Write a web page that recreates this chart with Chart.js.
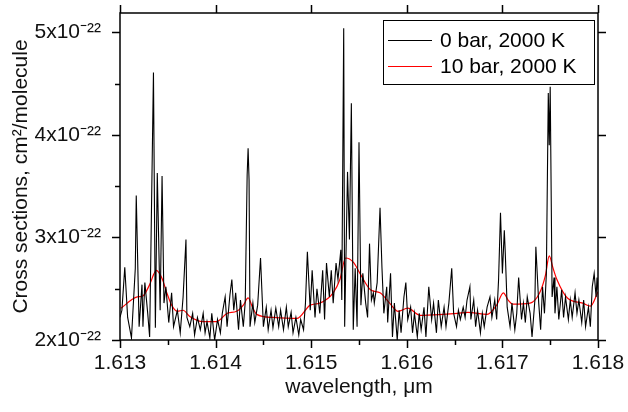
<!DOCTYPE html>
<html>
<head>
<meta charset="utf-8">
<script src="https://cdn.jsdelivr.net/npm/chart.js@4.4.1/dist/chart.umd.min.js"></script>
<style>
  html, body { margin: 0; padding: 0; background: #fff; }
  #wrap { width: 628px; height: 412px; position: relative; }
</style>
</head>
<body>
<div id="wrap"><canvas id="spectrumChart"></canvas></div>
<script>
// wavelength in um, cross sections in units of 1e-22 cm^2/molecule
const wl0bar = [1.61300, 1.61302, 1.61305, 1.61308, 1.61312, 1.61316, 1.61317, 1.61320, 1.61323, 1.61324,
    1.61326, 1.61329, 1.61331, 1.61335, 1.61337, 1.61339, 1.61342, 1.61344, 1.61346, 1.61348,
    1.61351, 1.61354, 1.61356, 1.61360, 1.61363, 1.61366, 1.61369, 1.61370, 1.61373, 1.61376,
    1.61378, 1.61381, 1.61384, 1.61387, 1.61389, 1.61391, 1.61394, 1.61396, 1.61399, 1.61402,
    1.61405, 1.61407, 1.61410, 1.61412, 1.61415, 1.61417, 1.61419, 1.61421, 1.61424, 1.61426,
    1.61429, 1.61431, 1.61433, 1.61434, 1.61435, 1.61436, 1.61439, 1.61441, 1.61444, 1.61447,
    1.61450, 1.61453, 1.61455, 1.61458, 1.61460, 1.61463, 1.61466, 1.61468, 1.61471, 1.61474,
    1.61476, 1.61479, 1.61481, 1.61484, 1.61487, 1.61489, 1.61492, 1.61494, 1.61496, 1.61499,
    1.61501, 1.61504, 1.61506, 1.61509, 1.61512, 1.61514, 1.61516, 1.61519, 1.61521, 1.61523,
    1.61526, 1.61528, 1.61531, 1.61532, 1.61534, 1.61535, 1.61538, 1.61540, 1.61542, 1.61544,
    1.61546, 1.61548, 1.61550, 1.61552, 1.61554, 1.61557, 1.61559, 1.61561, 1.61563, 1.61565,
    1.61566, 1.61569, 1.61572, 1.61574, 1.61576, 1.61579, 1.61580, 1.61583, 1.61585, 1.61587,
    1.61590, 1.61592, 1.61594, 1.61597, 1.61599, 1.61601, 1.61604, 1.61606, 1.61608, 1.61611,
    1.61613, 1.61615, 1.61618, 1.61620, 1.61623, 1.61626, 1.61628, 1.61631, 1.61633, 1.61636,
    1.61639, 1.61641, 1.61644, 1.61647, 1.61649, 1.61652, 1.61654, 1.61656, 1.61659, 1.61661,
    1.61663, 1.61666, 1.61667, 1.61670, 1.61672, 1.61674, 1.61677, 1.61679, 1.61681, 1.61684,
    1.61687, 1.61689, 1.61692, 1.61694, 1.61696, 1.61698, 1.61700, 1.61702, 1.61703, 1.61705,
    1.61708, 1.61710, 1.61713, 1.61715, 1.61717, 1.61720, 1.61722, 1.61724, 1.61726, 1.61729,
    1.61731, 1.61734, 1.61735, 1.61738, 1.61740, 1.61742, 1.61744, 1.61746, 1.61748, 1.61749,
    1.61750, 1.61752, 1.61754, 1.61755, 1.61757, 1.61759, 1.61762, 1.61764, 1.61766, 1.61769,
    1.61771, 1.61773, 1.61776, 1.61778, 1.61780, 1.61783, 1.61785, 1.61787, 1.61790, 1.61792,
    1.61794, 1.61796, 1.61798, 1.61799, 1.61800];
const cs0bar = [2.22, 2.29, 2.71, 2.22, 2.02, 2.70, 3.41, 2.13, 2.54, 2.13,
    2.56, 2.26, 2.03, 4.61, 2.12, 3.63, 2.29, 3.60, 2.36, 2.52,
    2.17, 2.46, 2.13, 2.29, 2.07, 2.42, 2.98, 2.22, 2.13, 2.26,
    2.05, 2.22, 2.10, 2.26, 2.07, 2.18, 2.02, 2.26, 2.00, 2.20,
    2.07, 2.26, 2.42, 2.13, 2.44, 2.59, 2.29, 2.46, 2.10, 2.39,
    2.13, 2.37, 3.61, 3.87, 3.56, 2.13, 2.36, 2.17, 2.34, 2.80,
    2.13, 2.32, 2.10, 2.29, 2.12, 2.31, 2.13, 2.29, 2.10, 2.32,
    2.13, 2.27, 2.07, 2.22, 2.05, 2.20, 2.10, 2.36, 2.86, 2.29,
    2.68, 2.22, 2.50, 2.26, 2.68, 2.20, 2.75, 2.42, 2.68, 2.36,
    2.75, 2.59, 2.88, 2.39, 5.04, 2.13, 3.64, 2.98, 4.31, 2.10,
    2.70, 2.13, 3.93, 2.34, 2.65, 2.36, 2.22, 2.94, 2.39, 2.46,
    2.36, 2.56, 3.29, 2.71, 2.26, 2.52, 2.17, 2.65, 2.03, 2.36,
    2.00, 2.29, 2.07, 2.42, 2.56, 2.20, 2.32, 2.07, 2.26, 2.03,
    2.26, 2.10, 2.32, 2.03, 2.52, 2.20, 2.36, 2.07, 2.39, 2.13,
    2.32, 2.13, 2.36, 2.70, 2.26, 2.13, 2.29, 2.20, 2.32, 2.22,
    2.39, 2.52, 2.20, 2.39, 2.13, 2.29, 2.07, 2.26, 2.13, 2.32,
    2.42, 2.22, 2.39, 2.20, 2.59, 3.24, 2.65, 3.07, 2.85, 2.32,
    2.13, 2.36, 2.10, 2.26, 2.61, 2.20, 2.36, 2.17, 2.42, 2.26,
    2.03, 2.39, 2.91, 2.36, 2.10, 2.52, 2.26, 2.65, 4.41, 3.90,
    4.47, 2.42, 2.61, 2.26, 2.52, 2.20, 2.49, 2.22, 2.42, 2.20,
    2.39, 2.22, 2.46, 2.26, 2.39, 2.17, 2.39, 2.13, 2.32, 2.13,
    2.52, 2.65, 2.42, 2.61, 2.49];

const wl10bar = [1.61301, 1.61318, 1.61324, 1.61331, 1.61338, 1.61344, 1.61349, 1.61354, 1.61360, 1.61366,
    1.61373, 1.61387, 1.61401, 1.61412, 1.61422, 1.61429, 1.61434, 1.61439, 1.61443, 1.61460,
    1.61485, 1.61499, 1.61509, 1.61523, 1.61530, 1.61536, 1.61544, 1.61551, 1.61562, 1.61572,
    1.61582, 1.61591, 1.61601, 1.61614, 1.61638, 1.61653, 1.61664, 1.61684, 1.61694, 1.61701,
    1.61706, 1.61711, 1.61729, 1.61739, 1.61745, 1.61749, 1.61753, 1.61757, 1.61768, 1.61784,
    1.61792, 1.61800];
const cs10bar = [2.31, 2.42, 2.43, 2.54, 2.68, 2.60, 2.46, 2.34, 2.28, 2.29,
    2.23, 2.18, 2.18, 2.26, 2.28, 2.34, 2.41, 2.31, 2.25, 2.22,
    2.21, 2.34, 2.36, 2.46, 2.59, 2.80, 2.76, 2.65, 2.49, 2.46,
    2.36, 2.28, 2.31, 2.24, 2.25, 2.26, 2.27, 2.25, 2.34, 2.46,
    2.39, 2.35, 2.36, 2.46, 2.63, 2.82, 2.70, 2.59, 2.41, 2.36,
    2.33, 2.47];

const seriesLabels = ['0 bar, 2000 K', '10 bar, 2000 K'];
const xTickValues = [1.613, 1.614, 1.615, 1.616, 1.617, 1.618];
const yTickValues = [2, 3, 4, 5];

const FONT = "'Liberation Sans', Arial, sans-serif";

function toPoints(xs, ys) {
    return xs.map((x, i) => ({ x: x, y: ys[i] }));
}

// frame, major/minor ticks and the legend box inside the plot
const framePlugin = {
    id: 'frame',
    afterDraw(chart) {
        const ctx = chart.ctx;
        const area = chart.chartArea;
        const xs = chart.scales.x;
        const ys = chart.scales.y;
        ctx.save();
        ctx.strokeStyle = '#000';
        ctx.lineWidth = 1.5;
        ctx.strokeRect(area.left, area.top, area.right - area.left, area.bottom - area.top);

        ctx.beginPath();
        xTickValues.forEach(v => {
            const px = Math.round(xs.getPixelForValue(v)) + 0.5;
            ctx.moveTo(px, area.bottom); ctx.lineTo(px, area.bottom + 8);
            ctx.moveTo(px, area.top); ctx.lineTo(px, area.top - 8);
        });
        for (let i = 0; i < xTickValues.length - 1; i++) {
            const px = Math.round(xs.getPixelForValue((xTickValues[i] + xTickValues[i + 1]) / 2)) + 0.5;
            ctx.moveTo(px, area.bottom); ctx.lineTo(px, area.bottom + 5);
        }
        yTickValues.forEach(v => {
            const py = Math.round(ys.getPixelForValue(v)) + 0.5;
            ctx.moveTo(area.left, py); ctx.lineTo(area.left - 8, py);
            ctx.moveTo(area.right, py); ctx.lineTo(area.right + 8, py);
        });
        for (let i = 0; i < yTickValues.length - 1; i++) {
            const py = Math.round(ys.getPixelForValue(yTickValues[i] + 0.5)) + 0.5;
            ctx.moveTo(area.left, py); ctx.lineTo(area.left - 5, py);
        }
        ctx.stroke();

        // legend
        const bx = 383.5, by = 20.5, bw = 211, bh = 64;
        ctx.fillStyle = '#fff';
        ctx.fillRect(bx, by, bw, bh);
        ctx.lineWidth = 1;
        ctx.strokeRect(bx, by, bw, bh);
        ctx.font = '21px ' + FONT;
        ctx.textBaseline = 'middle';
        chart.data.datasets.forEach((ds, i) => {
            const ly = 40.5 + i * 26;
            ctx.strokeStyle = ds.borderColor;
            ctx.lineWidth = 1.2;
            ctx.beginPath();
            ctx.moveTo(388, ly); ctx.lineTo(432, ly);
            ctx.stroke();
            ctx.fillStyle = '#000';
            ctx.fillText(ds.label, 440, ly + 1);
        });
        ctx.restore();
    }
};

new Chart(document.getElementById('spectrumChart').getContext('2d'), {
    type: 'line',
    data: {
        datasets: [{
            label: seriesLabels[0],
            data: toPoints(wl0bar, cs0bar),
            borderColor: '#000000',
            borderWidth: 1.1,
            pointRadius: 0,
            tension: 0,
        }, {
            label: seriesLabels[1],
            data: toPoints(wl10bar, cs10bar),
            borderColor: '#ff0000',
            borderWidth: 1.2,
            pointRadius: 0,
            cubicInterpolationMode: 'monotone',
        }],
    },
    plugins: [framePlugin],
    options: {
        responsive: true,
        maintainAspectRatio: false,
        animation: false,
        layout: { padding: { top: 13, right: 30, left: 0, bottom: 0 } },
        plugins: { legend: { display: false }, tooltip: { enabled: false } },
        scales: {
            x: {
                type: 'linear',
                min: 1.613,
                max: 1.618,
                grid: { display: false },
                border: { display: false },
                afterBuildTicks: s => { s.ticks = xTickValues.map(v => ({ value: v })); },
                afterFit: s => { s.height = 72; s.paddingLeft = 0; s.paddingRight = 0; },
                ticks: {
                    maxRotation: 0,
                    padding: 3,
                    color: '#111',
                    font: { family: FONT, size: 21 },
                    callback: v => v.toFixed(3),
                },
                title: {
                    display: true,
                    text: 'wavelength, μm',
                    color: '#111',
                    font: { family: FONT, size: 21 },
                    padding: { top: 0, bottom: 12 },
                },
            },
            y: {
                min: 2,
                max: 5.19,
                grid: { display: false },
                border: { display: false },
                afterBuildTicks: s => { s.ticks = yTickValues.map(v => ({ value: v })); },
                afterFit: s => { s.width = 120; s.paddingTop = 0; s.paddingBottom = 0; },
                ticks: {
                    padding: 11,
                    color: '#111',
                    font: { family: FONT, size: 21 },
                    callback: v => v + 'x10⁻²²',
                },
                title: {
                    display: true,
                    text: 'Cross sections, cm²/molecule',
                    color: '#111',
                    font: { family: FONT, size: 21 },
                    padding: { top: 9, bottom: 0 },
                },
            },
        },
    },
});
</script>
</body>
</html>
